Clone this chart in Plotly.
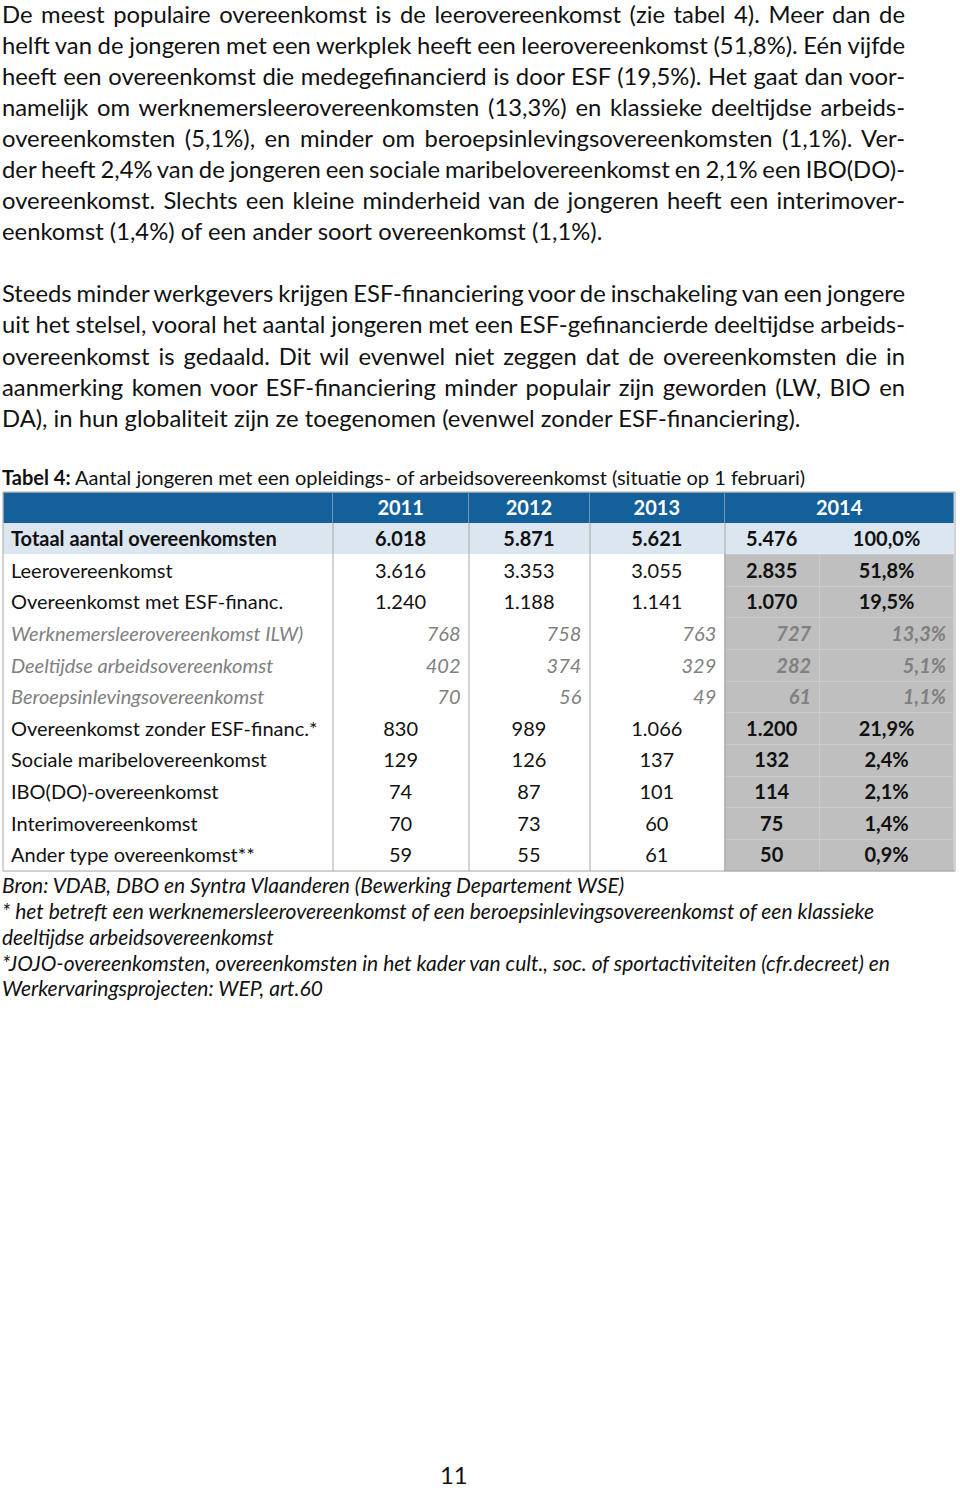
import plotly.graph_objects as go

# tekst van de pagina
para1 = [
    "De meest populaire overeenkomst is de leerovereenkomst (zie tabel 4). Meer dan de",
    "helft van de jongeren met een werkplek heeft een leerovereenkomst (51,8%). Eén vijfde",
    "heeft een overeenkomst die medegefinancierd is door ESF (19,5%). Het gaat dan voor-",
    "namelijk om werknemersleerovereenkomsten (13,3%) en klassieke deeltijdse arbeids-",
    "overeenkomsten (5,1%), en minder om beroepsinlevingsovereenkomsten (1,1%). Ver-",
    "der heeft 2,4% van de jongeren een sociale maribelovereenkomst en 2,1% een IBO(DO)-",
    "overeenkomst. Slechts een kleine minderheid van de jongeren heeft een interimover-",
    "eenkomst (1,4%) of een ander soort overeenkomst (1,1%).",
]
para2 = [
    "Steeds minder werkgevers krijgen ESF-financiering voor de inschakeling van een jongere",
    "uit het stelsel, vooral het aantal jongeren met een ESF-gefinancierde deeltijdse arbeids-",
    "overeenkomst is gedaald. Dit wil evenwel niet zeggen dat de overeenkomsten die in",
    "aanmerking komen voor ESF-financiering minder populair zijn geworden (LW, BIO en",
    "DA), in hun globaliteit zijn ze toegenomen (evenwel zonder ESF-financiering).",
]
caption = "<b>Tabel 4:</b> Aantal jongeren met een opleidings- of arbeidsovereenkomst (situatie op 1 februari)"
footnotes = [
    "Bron: VDAB, DBO en Syntra Vlaanderen (Bewerking Departement WSE)",
    "* het betreft een werknemersleerovereenkomst of een beroepsinlevingsovereenkomst of een klassieke",
    "deeltijdse arbeidsovereenkomst",
    "*JOJO-overeenkomsten, overeenkomsten in het kader van cult., soc. of sportactiviteiten (cfr.decreet) en",
    "Werkervaringsprojecten: WEP, art.60",
]

# tabel 4
years = ["2011", "2012", "2013", "2014"]
categories = [
    "Totaal aantal overeenkomsten",
    "Leerovereenkomst",
    "Overeenkomst met ESF-financ.",
    "Werknemersleerovereenkomst ILW)",
    "Deeltijdse arbeidsovereenkomst",
    "Beroepsinlevingsovereenkomst",
    "Overeenkomst zonder ESF-financ.*",
    "Sociale maribelovereenkomst",
    "IBO(DO)-overeenkomst",
    "Interimovereenkomst",
    "Ander type overeenkomst**",
]
v2011 = [6018, 3616, 1240, 768, 402, 70, 830, 129, 74, 70, 59]
v2012 = [5871, 3353, 1188, 758, 374, 56, 989, 126, 87, 73, 55]
v2013 = [5621, 3055, 1141, 763, 329, 49, 1066, 137, 101, 60, 61]
v2014 = [5476, 2835, 1070, 727, 282, 61, 1200, 132, 114, 75, 50]
pct2014 = [100.0, 51.8, 19.5, 13.3, 5.1, 1.1, 21.9, 2.4, 2.1, 1.4, 0.9]
sub_rows = [3, 4, 5]  # cursief, onderdeel van ESF-financ.

FONT = "Lato"
W, H = 960, 1490


def py(y):
    return 1 - y / H


def nl(n):
    return f"{n:,}".replace(",", ".")


def pc(p):
    return f"{p:.1f}%".replace(".", ",")


n = len(categories)
all_cols = [categories,
            [nl(v) for v in v2011], [nl(v) for v in v2012], [nl(v) for v in v2013],
            [nl(v) for v in v2014], [pc(p) for p in pct2014]]

BLUE = "#14609a"
LIGHT = "#dce6f1"
GREY = "#bfbfbf"
TXT = "#111111"
SUBTXT = "#808080"
TSIZE = 20

widths = [330, 136, 121, 135, 95, 135]
x0, x1 = 3, 955
top, head_h, row_h = 492, 31, 31.64
body_top = top + head_h
bottom = body_top + n * row_h

fig = go.Figure()
# kopregel met jaartallen (2014 over twee kolommen); de lege celrij valt buiten het domein
fig.add_trace(go.Table(
    domain=dict(x=[x0 / W, x1 / W], y=[py(body_top + 0.5), py(top)]),
    columnwidth=[widths[0], widths[1], widths[2], widths[3], widths[4] + widths[5]],
    header=dict(values=[""] + years,
                fill_color=BLUE, line_color="#7396bb", height=head_h,
                font=dict(family=FONT, size=TSIZE, color="white", weight=700),
                align="center"),
    cells=dict(values=[[""]] * 5, height=row_h, fill_color="white", line_color="white"),
))

# elke rij van de tabel als eigen trace (vaste rijhoogte, eigen opmaak per rij)
for r in range(n):
    if r == 0:
        fill = [LIGHT] * 6
        line = [LIGHT] * 6
    else:
        fill = ["white"] * 4 + [GREY] * 2
        line = ["white"] * 4 + ["#cbcbcb"] * 2
    sub = r in sub_rows
    weight = [700] * 6 if r == 0 else [400] * 4 + [700] * 2
    fig.add_trace(go.Table(
        domain=dict(x=[x0 / W, x1 / W],
                    y=[py(body_top + (r + 1) * row_h + 0.5), py(body_top + r * row_h)]),
        columnwidth=widths,
        header=dict(values=[c[r] for c in all_cols], height=row_h,
                    fill_color=fill, line_color=line,
                    font=dict(family=FONT, size=TSIZE, color=SUBTXT if sub else TXT,
                              weight=weight, style="italic" if sub else "normal"),
                    align=["left"] + ["right" if sub else "center"] * 5),
        cells=dict(values=[[""]] * 6, height=row_h, fill_color="white", line_color="white"),
    ))

# kolomlijnen en kader
xs = [x0]
for w in widths[:4]:
    xs.append(xs[-1] + w)
for x in xs[1:]:
    fig.add_shape(type="line", xref="paper", yref="paper", x0=x / W, x1=x / W,
                  y0=py(body_top), y1=py(bottom), line=dict(color="#a6a6a6", width=1))
fig.add_shape(type="rect", xref="paper", yref="paper", x0=x0 / W, x1=x1 / W,
              y0=py(top), y1=py(bottom), line=dict(color="#a6a6a6", width=1))

BODY = 23.8
ann = []
for i, line in enumerate(para1[:-1]):
    ann.append((line, 14 + 31 * i, BODY, "normal"))
for i, line in enumerate(para2[:-1]):
    ann.append((line, 293 + 31.25 * i, BODY, "normal"))
nj = len(ann)
ann.append((para1[-1], 14 + 31 * 7, BODY, "normal"))
ann.append((para2[-1], 293 + 31.25 * 4, BODY, "normal"))
ann.append((caption, 477, 20, "normal"))
for i, line in enumerate(footnotes):
    ann.append((line, 884 + 26 * i, 21, "italic"))

for txt, y, size, st in ann:
    fig.add_annotation(text=txt, x=0, y=py(y), xref="paper", yref="paper",
                       xanchor="left", yanchor="middle", showarrow=False,
                       font=dict(family=FONT, size=size, color=TXT, style=st))
fig.add_annotation(text="11", x=454 / W, y=py(1475), xref="paper", yref="paper",
                   xanchor="center", yanchor="middle",
                   showarrow=False, font=dict(family=FONT, size=BODY, color=TXT))

fig.update_layout(width=W, height=H, margin=dict(l=0, r=0, t=0, b=0),
                  paper_bgcolor="white", plot_bgcolor="white", showlegend=False)

# pagina zonder marge en uitvullen van de alinearegels
justify = """
document.body.style.margin = '0';
var gd = document.getElementById('{plot_id}');
function uitvullen(){
  gd.querySelectorAll('g.annotation').forEach(function(g){
    var i = +g.getAttribute('data-index');
    if (i >= NJ) return;
    var t = g.querySelector('text.annotation-text');
    if (!t) return;
    t.style.wordSpacing = '0px';
    t.removeAttribute('transform');
    var r0 = t.getBoundingClientRect();
    var k = (t.textContent.match(/ /g) || []).length;
    if (k === 0) return;
    t.style.wordSpacing = ((905 - r0.right) / k) + 'px';
    var r1 = t.getBoundingClientRect();
    t.setAttribute('transform', 'translate(' + (r0.left - r1.left) + ',0)');
  });
}
uitvullen();
gd.on('plotly_afterplot', uitvullen);
""".replace("NJ", str(nj))

fig.write_html("out.html", post_script=justify, config={"displayModeBar": False})
